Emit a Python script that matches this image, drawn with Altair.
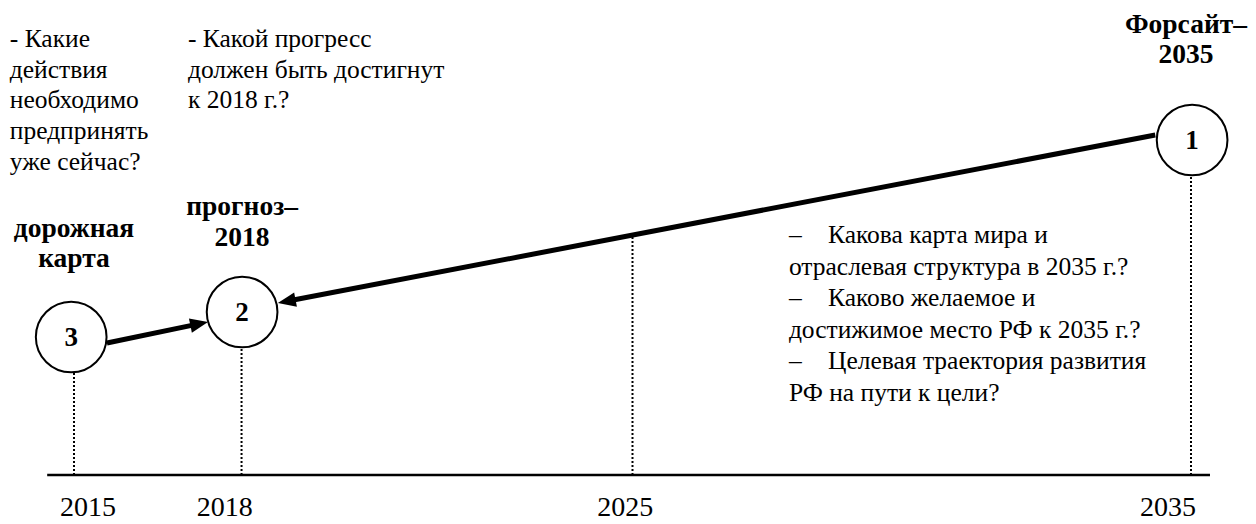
import math
import altair as alt
import pandas as pd

# ---------------- data ----------------
years = [2015, 2018, 2025, 2035]
year_label_pos = [2015.25, 2017.70, 2024.87, 2034.59]
dotted_top = [103, 128, 238, 299]

node_labels = ["1", "2", "3"]
node_year = [2035.02, 2018.01, 2014.95]
node_height = [335, 163, 138]

arrow_from_year = [2034.36, 2015.59]
arrow_from_h = [340, 132]
arrow_to_year = [2018.65, 2017.40]
arrow_to_h = [172, 153]

axis_span = [2014.52, 2035.34]

heading_lines = ["Форсайт–", "2035", "прогноз–", "2018", "дорожная", "карта"]
heading_x = [2034.91, 2034.91, 2018.01, 2018.01, 2015.0, 2015.0]
heading_h = [442, 412, 260, 229, 238, 208]

question_lines = [
    "- Какие", "действия", "необходимо", "предпринять", "уже сейчас?",
    "- Какой прогресс", "должен быть достигнут", "к 2018 г.?",
    "Какова карта мира и", "отраслевая структура в 2035 г.?",
    "Каково желаемое и", "достижимое место РФ к 2035 г.?",
    "Целевая траектория развития", "РФ на пути к цели?",
]
question_x = [
    2013.85, 2013.85, 2013.85, 2013.85, 2013.85,
    2017.04, 2017.04, 2017.04,
    2028.50, 2027.80, 2028.50, 2027.80, 2028.50, 2027.80,
]
question_h = [
    428, 397.3, 366.6, 335.9, 305.2,
    428, 397.3, 366.6,
    232, 200.4, 168.8, 137.2, 105.6, 74,
]
dash_x = [2027.80, 2027.80, 2027.80]
dash_h = [232, 168.8, 105.6]

# ---------------- scales ----------------
X0, X1 = 2013.8183, 2036.0206
Y0, Y1 = -49, 467
W, H = 1240, 516
xs = alt.Scale(domain=[X0, X1], nice=False, zero=False)
ys = alt.Scale(domain=[Y0, Y1], nice=False, zero=False)


def px(yr):
    return (yr - X0) / (X1 - X0) * W


def py(h):
    return (Y1 - h) / (Y1 - Y0) * H


def inv_x(p):
    return X0 + p / W * (X1 - X0)


def inv_y(q):
    return Y1 - q / H * (Y1 - Y0)


rows = []
for fy, fh, ty, th in zip(arrow_from_year, arrow_from_h, arrow_to_year, arrow_to_h):
    dx = px(ty) - px(fy)
    dy = py(th) - py(fh)
    L = math.hypot(dx, dy)
    ux, uy = dx / L, dy / L
    ang = math.degrees(math.atan2(dy, dx)) % 360
    ex, ey = px(ty) - 13 * ux, py(th) - 13 * uy
    rows.append(dict(x=fy, y=fh, x2=inv_x(ex), y2=inv_y(ey), tx=ty, ty=th, angle=ang))
arrows = pd.DataFrame(rows)

FONT = "'Liberation Serif', 'Times New Roman', 'DejaVu Serif', serif"

axis_df = pd.DataFrame({"x": [axis_span[0]], "x2": [axis_span[1]], "y": [0]})
axis_line = alt.Chart(axis_df).mark_rule(color="black", strokeWidth=2.5).encode(
    x=alt.X("x:Q", scale=xs, axis=None), x2="x2:Q",
    y=alt.Y("y:Q", scale=ys, axis=None),
)

dots_df = pd.DataFrame({"x": years, "top": dotted_top, "base": [0] * len(years)})
dots = alt.Chart(dots_df).mark_rule(color="black", strokeWidth=2, strokeDash=[2, 2]).encode(
    x=alt.X("x:Q", scale=xs, axis=None),
    y=alt.Y("base:Q", scale=ys, axis=None), y2="top:Q",
)

arrow_lines = alt.Chart(arrows).mark_rule(color="black", strokeWidth=5, strokeCap="butt").encode(
    x=alt.X("x:Q", scale=xs, axis=None), x2="x2:Q",
    y=alt.Y("y:Q", scale=ys, axis=None), y2="y2:Q",
)

arrow_heads = alt.Chart(arrows).mark_point(
    shape="M0,0L-2,-0.8L-2,0.8Z", filled=True, color="black", size=324, opacity=1
).encode(
    x=alt.X("tx:Q", scale=xs, axis=None),
    y=alt.Y("ty:Q", scale=ys, axis=None),
    angle=alt.Angle("angle:Q", scale=None),
)

nodes_df = pd.DataFrame({"label": node_labels, "x": node_year, "y": node_height})
circles = alt.Chart(nodes_df).mark_point(
    shape="circle", filled=True, fill="white", stroke="black", strokeWidth=2,
    size=5000, opacity=1, strokeOpacity=1, fillOpacity=1,
).encode(
    x=alt.X("x:Q", scale=xs, axis=None),
    y=alt.Y("y:Q", scale=ys, axis=None),
)
numbers = alt.Chart(nodes_df).mark_text(
    font=FONT, fontSize=27, fontWeight="bold", color="black", baseline="middle", align="center", dy=1
).encode(
    x=alt.X("x:Q", scale=xs, axis=None),
    y=alt.Y("y:Q", scale=ys, axis=None),
    text="label:N",
)

head_df = pd.DataFrame({"t": heading_lines, "x": heading_x, "y": heading_h})
headings = alt.Chart(head_df).mark_text(
    font=FONT, fontSize=27.5, fontWeight="bold", color="black", align="center", baseline="alphabetic"
).encode(
    x=alt.X("x:Q", scale=xs, axis=None),
    y=alt.Y("y:Q", scale=ys, axis=None),
    text="t:N",
)

q_df = pd.DataFrame({"t": question_lines, "x": question_x, "y": question_h})
questions = alt.Chart(q_df).mark_text(
    font=FONT, fontSize=25.5, color="black", align="left", baseline="alphabetic"
).encode(
    x=alt.X("x:Q", scale=xs, axis=None),
    y=alt.Y("y:Q", scale=ys, axis=None),
    text="t:N",
)

dash_df = pd.DataFrame({"t": ["–"] * len(dash_x), "x": dash_x, "y": dash_h})
dashes = alt.Chart(dash_df).mark_text(
    font=FONT, fontSize=25.5, color="black", align="left", baseline="alphabetic"
).encode(
    x=alt.X("x:Q", scale=xs, axis=None),
    y=alt.Y("y:Q", scale=ys, axis=None),
    text="t:N",
)

yl_df = pd.DataFrame({"t": [str(y) for y in years], "x": year_label_pos, "y": [-41] * len(years)})
year_labels = alt.Chart(yl_df).mark_text(
    font=FONT, fontSize=28, color="black", align="center", baseline="alphabetic"
).encode(
    x=alt.X("x:Q", scale=xs, axis=None),
    y=alt.Y("y:Q", scale=ys, axis=None),
    text="t:N",
)

chart = alt.layer(
    axis_line, dots, arrow_lines, arrow_heads, circles, numbers,
    headings, questions, dashes, year_labels,
).properties(
    width=W, height=H, padding=0, autosize="none", background="white"
).configure_view(stroke=None)

chart.save("out.html", embed_options={"renderer": "svg", "actions": False})
